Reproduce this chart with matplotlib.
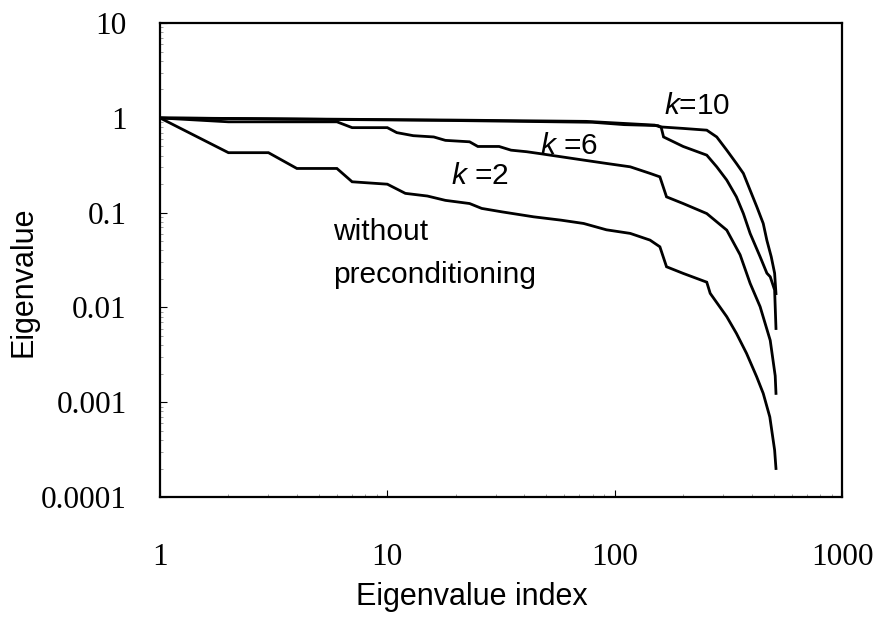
import matplotlib
matplotlib.use("Agg")
import matplotlib.pyplot as plt
from matplotlib.ticker import FixedLocator, FixedFormatter, LogLocator, NullFormatter

plt.rcParams['font.family'] = 'Liberation Sans'
plt.rcParams['mathtext.fontset'] = 'custom'
plt.rcParams['mathtext.rm'] = 'Liberation Sans'
plt.rcParams['mathtext.it'] = 'Liberation Sans:italic'

# eigenvalue spectra (index, eigenvalue)
idx_none = [1, 2, 3, 4, 6, 7, 10, 12, 15, 18, 23, 26, 32, 44, 58, 73, 92, 117, 143, 158,
            169, 200, 254, 263, 311, 343, 380, 421, 450, 481, 505, 512]
val_none = [1, 0.43, 0.43, 0.293, 0.293, 0.212, 0.20, 0.16, 0.15, 0.135, 0.125, 0.111, 0.102,
            0.0905, 0.0835, 0.077, 0.066, 0.0605, 0.0514, 0.0437, 0.0269, 0.0229, 0.0185,
            0.0141, 0.008, 0.00533, 0.00328, 0.00186, 0.00124, 0.0007, 0.000313, 0.0002]

idx_k2 = [1, 2, 6, 7, 10, 11, 13, 16, 18, 23, 25, 31, 35, 41, 47, 52, 73, 92, 117, 143,
          158, 169, 200, 254, 311, 356, 394, 436, 483, 508, 512]
val_k2 = [1, 0.91, 0.91, 0.79, 0.79, 0.70, 0.65, 0.63, 0.58, 0.56, 0.50, 0.50, 0.457, 0.44,
          0.42, 0.405, 0.359, 0.331, 0.305, 0.26, 0.239, 0.147, 0.125, 0.098, 0.0655, 0.036,
          0.018, 0.0102, 0.0045, 0.0019, 0.00124]

idx_k6 = [1, 19, 80, 110, 155, 160, 164, 200, 254, 281, 311, 343, 368, 394, 436, 467, 483,
          505, 512]
val_k6 = [1, 0.94, 0.90, 0.85, 0.83, 0.80, 0.63, 0.50, 0.405, 0.305, 0.221, 0.147, 0.098,
          0.0605, 0.0343, 0.023, 0.0211, 0.0153, 0.006]

idx_k10 = [1, 19, 75, 150, 158, 200, 254, 281, 311, 343, 368, 394, 422, 450, 467, 488, 505, 512]
val_k10 = [1, 0.95, 0.92, 0.84, 0.805, 0.775, 0.743, 0.63, 0.457, 0.331, 0.26, 0.173, 0.115,
           0.077, 0.051, 0.0343, 0.023, 0.014]

x_ticks = [1, 10, 100, 1000]
x_labels = ['1', '10', '100', '1000']
y_ticks = [0.0001, 0.001, 0.01, 0.1, 1, 10]
y_labels = ['0.0001', '0.001', '0.01', '0.1', '1', '10']

fig = plt.figure(figsize=(8.79, 6.26), dpi=100)
ax = fig.add_axes([0.182, 0.206, 0.776, 0.757])

for xs, ys in [(idx_none, val_none), (idx_k2, val_k2), (idx_k6, val_k6), (idx_k10, val_k10)]:
    ax.plot(xs, ys, color='black', lw=2.0, solid_joinstyle='miter')

ax.set_xscale('log')
ax.set_yscale('log')
ax.set_xlim(1, 1000)
ax.set_ylim(0.0001, 10)

ax.xaxis.set_major_locator(FixedLocator(x_ticks))
ax.xaxis.set_major_formatter(FixedFormatter(x_labels))
ax.yaxis.set_major_locator(FixedLocator(y_ticks))
ax.yaxis.set_major_formatter(FixedFormatter(y_labels))
ax.xaxis.set_minor_locator(LogLocator(base=10, subs=range(2, 10)))
ax.yaxis.set_minor_locator(LogLocator(base=10, subs=range(2, 10)))
ax.xaxis.set_minor_formatter(NullFormatter())
ax.yaxis.set_minor_formatter(NullFormatter())

ax.tick_params(which='major', direction='in', length=5, width=0.8, labelsize=22.5)
ax.tick_params(axis='x', which='major', pad=33)
ax.tick_params(axis='y', which='major', pad=24)
ax.tick_params(which='minor', direction='in', length=2.5, width=0.5, color='#777777')
for lab in ax.get_xticklabels() + ax.get_yticklabels():
    lab.set_family('Liberation Serif')

for sp in ax.spines.values():
    sp.set_linewidth(1.6)

ax.set_xlabel('Eigenvalue index', fontsize=22)
ax.set_ylabel('Eigenvalue', fontsize=22)
ax.xaxis.set_label_coords(0.457, -0.18)
ax.yaxis.set_label_coords(-0.178, 0.454)

ax.text(230, 1.33, '$k$=10', fontsize=21.5, ha='center', va='center')
ax.text(63, 0.504, '$k$ =6', fontsize=21.5, ha='center', va='center')
ax.text(25.6, 0.243, '$k$ =2', fontsize=21.5, ha='center', va='center')
ax.text(5.77, 0.0514, 'without', fontsize=21.5, ha='left', va='baseline')
ax.text(5.77, 0.0181, 'preconditioning', fontsize=21.5, ha='left', va='baseline')

fig.savefig('out.png', dpi=100)
